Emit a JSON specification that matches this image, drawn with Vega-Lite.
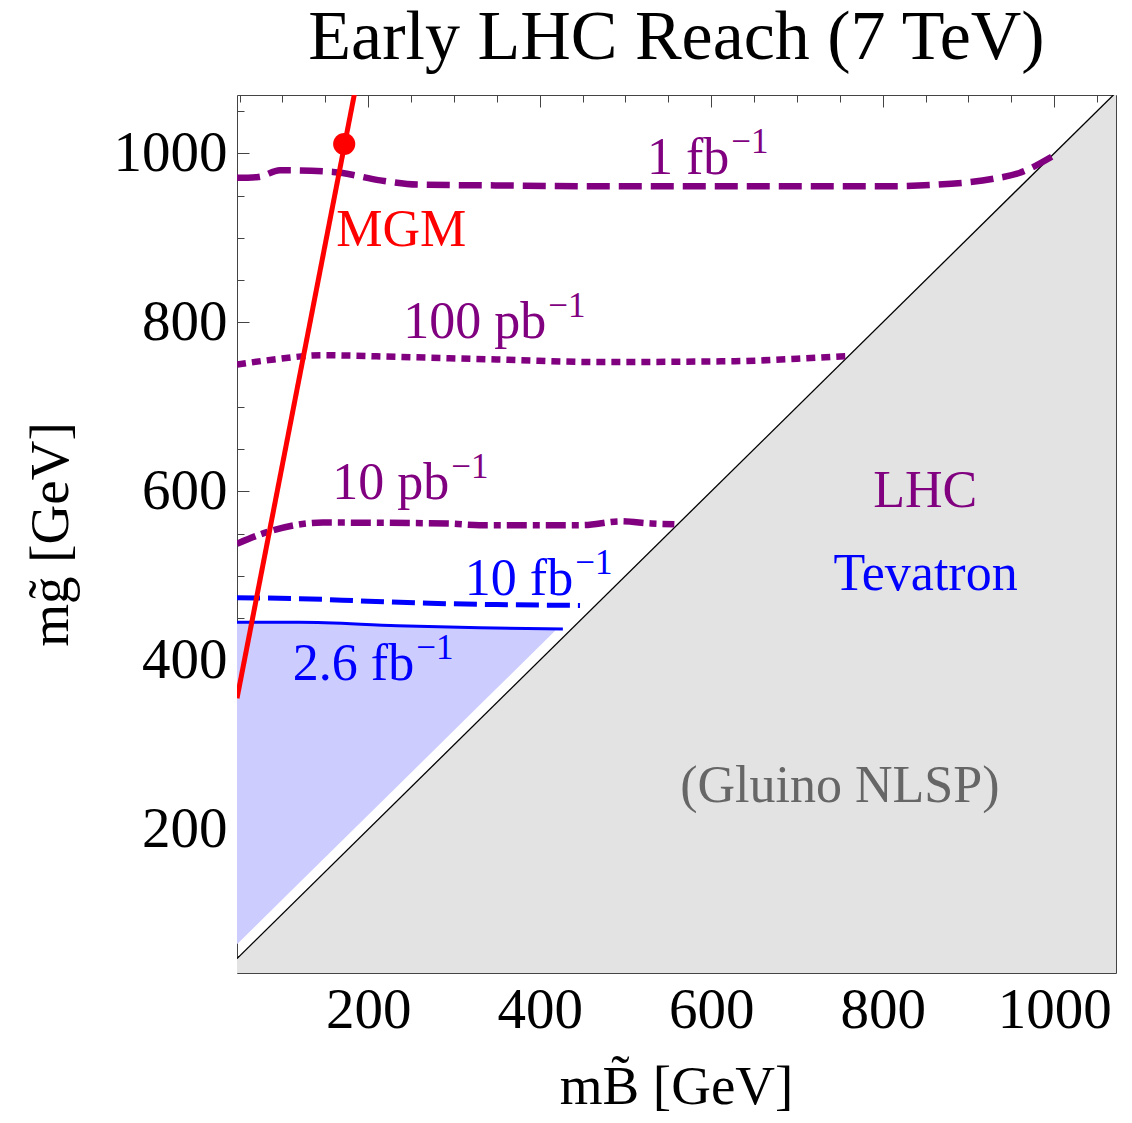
{
  "$schema": "https://vega.github.io/schema/vega-lite/v6.json",
  "width": 879,
  "height": 878,
  "autosize": {"type": "none"},
  "padding": {"left": 237, "top": 95, "right": 16, "bottom": 150},
  "background": "white",
  "config": {"view": {"stroke": null}, "font": "Liberation Serif"},
  "title": {"text": "Early LHC Reach (7 TeV)", "font": "Liberation Serif", "fontSize": 70, "fontWeight": "normal", "color": "black", "anchor": "middle", "frame": "group", "baseline": "alphabetic", "offset": -47},
  "datasets": {
    "gray": [{"x": 47, "y": 47}, {"x": 1072, "y": 1072}],
    "tevfill": [
      {"x": 47, "y": 445, "y2": 64},
      {"x": 120, "y": 445, "y2": 137},
      {"x": 234, "y": 441, "y2": 251},
      {"x": 330, "y": 438.5, "y2": 347},
      {"x": 418, "y": 436, "y2": 435}
    ],
    "fb1": [
      {"x": 47, "y": 971}, {"x": 72, "y": 972}, {"x": 97, "y": 980}, {"x": 159, "y": 978},
      {"x": 214, "y": 968}, {"x": 257, "y": 963}, {"x": 350, "y": 962}, {"x": 470, "y": 961},
      {"x": 600, "y": 961}, {"x": 700, "y": 961}, {"x": 800, "y": 961}, {"x": 880, "y": 964},
      {"x": 930, "y": 970}, {"x": 960, "y": 977}, {"x": 997, "y": 996}
    ],
    "pb100": [
      {"x": 47, "y": 750}, {"x": 90, "y": 756}, {"x": 147, "y": 761}, {"x": 237, "y": 759},
      {"x": 350, "y": 756}, {"x": 470, "y": 753}, {"x": 628, "y": 754}, {"x": 700, "y": 757},
      {"x": 757, "y": 760}
    ],
    "pb10": [
      {"x": 47, "y": 538}, {"x": 83, "y": 552}, {"x": 147, "y": 563}, {"x": 292, "y": 562},
      {"x": 330, "y": 560}, {"x": 450, "y": 560}, {"x": 494, "y": 564.5}, {"x": 530, "y": 562},
      {"x": 557, "y": 561}
    ],
    "fb10": [
      {"x": 47, "y": 474}, {"x": 120, "y": 473}, {"x": 200, "y": 470}, {"x": 272, "y": 467.5},
      {"x": 350, "y": 466}, {"x": 447, "y": 465}
    ],
    "fb26": [
      {"x": 47, "y": 445}, {"x": 120, "y": 445}, {"x": 234, "y": 441}, {"x": 330, "y": 438.5},
      {"x": 427, "y": 437}
    ],
    "mgm": [{"x": 47, "y": 355}, {"x": 186, "y": 1081}],
    "dot": [{"x": 172, "y": 1011}],
    "names": [
      {"x": 238.5, "y": 890, "text": "MGM", "group": "mgm"},
      {"x": 849.6, "y": 581, "text": "LHC", "group": "lhc"},
      {"x": 850, "y": 483, "text": "Tevatron", "group": "tev"},
      {"x": 750, "y": 232, "text": "(Gluino NLSP)", "group": "nlsp"}
    ],
    "lumi": [
      {"x": 621, "y": 976, "text": "1 fb", "group": "lhc"},
      {"x": 407.6, "y": 781, "text": "100 pb", "group": "lhc"},
      {"x": 294.5, "y": 590.5, "text": "10 pb", "group": "lhc"},
      {"x": 439, "y": 477, "text": "10 fb", "group": "tev"},
      {"x": 253.6, "y": 376.3, "text": "2.6 fb", "group": "tev"}
    ]
  },
  "resolve": {"axis": {"x": "independent", "y": "independent"}},
  "layer": [
    {
      "data": {"name": "gray"},
      "mark": {"type": "area", "color": "#e3e3e3", "clip": true},
      "encoding": {
        "x": {"field": "x", "type": "quantitative",
          "scale": {"domain": [47, 1072], "nice": false, "zero": false},
          "axis": {"orient": "bottom", "values": [50,100,150,200,250,300,350,400,450,500,550,600,650,700,750,800,850,900,950,1000,1050],
            "format": "d", "labelExpr": "datum.value % 200 === 0 ? datum.label : ''",
            "labelFont": "Liberation Serif", "labelFontSize": 57, "labelColor": "black", "labelPadding": 21,
            "labelFlush": false, "labelOverlap": false,
            "tickSize": {"condition": {"test": "datum.value % 200 === 0", "value": -12}, "value": -7},
            "tickColor": "#444", "domainColor": "#444", "grid": false,
            "title": "mB\u0303  [GeV]", "titleFont": "Liberation Serif", "titleFontSize": 55, "titleFontWeight": "normal", "titleColor": "black",
            "titleX": 439, "titleY": 130, "titleBaseline": "alphabetic", "titleAlign": "center", "titleAnchor": null}},
        "y": {"field": "y", "type": "quantitative",
          "scale": {"domain": [30, 1069], "nice": false, "zero": false},
          "axis": {"orient": "left", "values": [50,100,150,200,250,300,350,400,450,500,550,600,650,700,750,800,850,900,950,1000,1050],
            "format": "d", "labelExpr": "datum.value % 200 === 0 ? datum.label : ''",
            "labelFont": "Liberation Serif", "labelFontSize": 57, "labelColor": "black", "labelPadding": 22,
            "labelFlush": false, "labelOverlap": false,
            "tickSize": {"condition": {"test": "datum.value % 200 === 0", "value": -12}, "value": -7},
            "tickColor": "#444", "domainColor": "#444", "grid": false,
            "title": "mg\u0303  [GeV]", "titleFont": "Liberation Serif", "titleFontSize": 55, "titleFontWeight": "normal", "titleColor": "black",
            "titleX": -170, "titleY": 439, "titleAngle": 270, "titleBaseline": "alphabetic", "titleAlign": "center", "titleAnchor": null}},
        "y2": {"datum": 30}
      }
    },
    {
      "data": {"name": "tevfill"},
      "mark": {"type": "area", "color": "#ccccff", "clip": true},
      "encoding": {
        "x": {"field": "x", "type": "quantitative", "axis": null},
        "y": {"field": "y", "type": "quantitative", "axis": null},
        "y2": {"field": "y2"}
      }
    },
    {
      "data": {"name": "gray"},
      "mark": {"type": "line", "color": "black", "strokeWidth": 1.3, "clip": true},
      "encoding": {
        "x": {"field": "x", "type": "quantitative",
          "axis": {"orient": "top", "values": [50,100,150,200,250,300,350,400,450,500,550,600,650,700,750,800,850,900,950,1000,1050],
            "labels": false, "title": null, "grid": false,
            "tickSize": {"condition": {"test": "datum.value % 200 === 0", "value": -12}, "value": -7},
            "tickColor": "#444", "domainColor": "#444"}},
        "y": {"field": "y", "type": "quantitative",
          "axis": {"orient": "right", "values": [50,100,150,200,250,300,350,400,450,500,550,600,650,700,750,800,850,900,950,1000,1050],
            "labels": false, "title": null, "grid": false,
            "tickSize": {"condition": {"test": "datum.value % 200 === 0", "value": -12}, "value": -7},
            "tickColor": "#444", "domainColor": "#444"}}
      }
    },
    {
      "data": {"name": "fb1"},
      "mark": {"type": "line", "color": "#800080", "strokeWidth": 6.5, "strokeDash": [23, 9], "interpolate": "monotone", "clip": true},
      "encoding": {"x": {"field": "x", "type": "quantitative", "axis": null}, "y": {"field": "y", "type": "quantitative", "axis": null}}
    },
    {
      "data": {"name": "pb100"},
      "mark": {"type": "line", "color": "#800080", "strokeWidth": 6.5, "strokeDash": [9, 6], "interpolate": "monotone", "clip": true},
      "encoding": {"x": {"field": "x", "type": "quantitative", "axis": null}, "y": {"field": "y", "type": "quantitative", "axis": null}}
    },
    {
      "data": {"name": "pb10"},
      "mark": {"type": "line", "color": "#800080", "strokeWidth": 6.5, "strokeDash": [20, 6, 7, 6], "interpolate": "monotone", "clip": true},
      "encoding": {"x": {"field": "x", "type": "quantitative", "axis": null}, "y": {"field": "y", "type": "quantitative", "axis": null}}
    },
    {
      "data": {"name": "fb10"},
      "mark": {"type": "line", "color": "#0000ff", "strokeWidth": 5, "strokeDash": [23, 8], "interpolate": "monotone", "clip": true},
      "encoding": {"x": {"field": "x", "type": "quantitative", "axis": null}, "y": {"field": "y", "type": "quantitative", "axis": null}}
    },
    {
      "data": {"name": "fb26"},
      "mark": {"type": "line", "color": "#0000ff", "strokeWidth": 3, "interpolate": "monotone", "clip": true},
      "encoding": {"x": {"field": "x", "type": "quantitative", "axis": null}, "y": {"field": "y", "type": "quantitative", "axis": null}}
    },
    {
      "data": {"name": "mgm"},
      "mark": {"type": "line", "color": "#ff0000", "strokeWidth": 5, "clip": true},
      "encoding": {"x": {"field": "x", "type": "quantitative", "axis": null}, "y": {"field": "y", "type": "quantitative", "axis": null}}
    },
    {
      "data": {"name": "dot"},
      "mark": {"type": "circle", "color": "#ff0000", "opacity": 1, "size": 490},
      "encoding": {"x": {"field": "x", "type": "quantitative", "axis": null}, "y": {"field": "y", "type": "quantitative", "axis": null}}
    },
    {
      "data": {"name": "names"},
      "mark": {"type": "text", "font": "Liberation Serif", "fontSize": 52, "align": "center", "baseline": "alphabetic"},
      "encoding": {
        "x": {"field": "x", "type": "quantitative", "axis": null},
        "y": {"field": "y", "type": "quantitative", "axis": null},
        "text": {"field": "text"},
        "color": {"field": "group", "type": "nominal", "legend": null,
          "scale": {"domain": ["lhc", "tev", "mgm", "nlsp"], "range": ["#800080", "#0000ff", "#ff0000", "#666666"]}}
      }
    },
    {
      "data": {"name": "lumi"},
      "mark": {"type": "text", "font": "Liberation Serif", "fontSize": 52, "align": "right", "baseline": "alphabetic"},
      "encoding": {
        "x": {"field": "x", "type": "quantitative", "axis": null},
        "y": {"field": "y", "type": "quantitative", "axis": null},
        "text": {"field": "text"},
        "color": {"field": "group", "type": "nominal", "legend": null}
      }
    },
    {
      "data": {"name": "lumi"},
      "mark": {"type": "text", "font": "Liberation Serif", "fontSize": 35, "align": "left", "baseline": "alphabetic", "dx": 2, "dy": -21},
      "encoding": {
        "x": {"field": "x", "type": "quantitative", "axis": null},
        "y": {"field": "y", "type": "quantitative", "axis": null},
        "text": {"value": "\u22121"},
        "color": {"field": "group", "type": "nominal", "legend": null}
      }
    }
  ]
}
